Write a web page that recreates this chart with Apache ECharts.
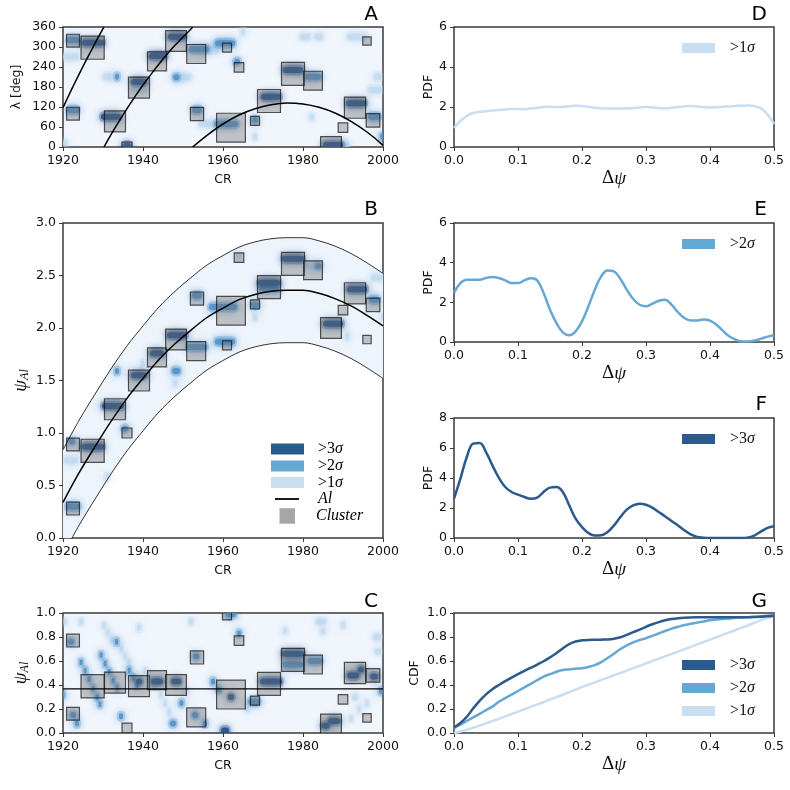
<!DOCTYPE html>
<html>
<head>
<meta charset="utf-8">
<script src="https://cdn.jsdelivr.net/npm/echarts@6/dist/echarts.min.js"></script>
<style>
	html, body { margin: 0; padding: 0; background: #fff; }
	#chart { width: 790px; height: 790px; }
</style>
</head>
<body>
<div id="chart"></div>
<script>
// ---- cluster boxes (same clusters in panels A, B, C) ----
const clusterCR = [1922.5, 1922.5, 1927.4, 1933, 1936, 1939, 1943.5, 1948.25, 1953.3, 1953.5, 1962, 1961, 1964, 1968, 1971.5, 1977.5, 1982.5, 1987, 1990, 1993, 1996, 1997.5];
const clusterWidth = [3.2, 3.2, 5.8, 5.25, 2.5, 5.25, 4.75, 5.2, 4.75, 3.3, 7.2, 2.25, 2.4, 2.25, 5.75, 5.75, 4.7, 5.2, 2.4, 5.3, 2.1, 3.4];
const clusterLambda = [319, 100, 298, 77, 0, 178, 257, 318, 279, 99, 58, 298, 239, 78.5, 138, 219.5, 199, 0, 58, 118, 318, 80];
const clusterPsi = [0.89, 0.28, 0.83, 1.226, 1.0, 1.5, 1.72, 1.89, 1.78, 2.28, 2.165, 1.835, 2.67, 2.225, 2.39, 2.61, 2.55, 2.0, 2.17, 2.33, 1.89, 2.22];
const clusterDev = [0.77, 0.16, 0.39, 0.42, 0.04, 0.39, 0.44, 0.40, 0.13, 0.63, 0.32, 0.98, 0.77, 0.27, 0.41, 0.61, 0.57, 0.07, 0.28, 0.50, 0.126, 0.48];

// ---- detections [CR, value, length in CR] by significance ----
const blobsA3 = [[1927.5, 313, 5.5], [1932, 91, 5], [1936, 4, 2], [1939, 196, 4], [1943.7, 273, 4.5], [1948.5, 331, 4.5], [1972, 151, 5], [1977.5, 231, 5], [1987.5, 6, 5], [1993.3, 131, 5]];
const blobsA2 = [[1922.5, 321, 3], [1922.5, 111, 3], [1933.5, 211, 1], [1948.3, 209, 1.5], [1954, 293, 5], [1953.5, 111, 2.5], [1960.8, 69, 6], [1960.5, 311, 5], [1963.5, 256, 1.5], [1968, 81, 1.5], [1982.5, 211, 4], [1997.8, 91, 3], [1999.8, 31, 1]];
const blobsA1 = [[1922, 271, 4], [1920.5, 11, 1], [1931, 211, 2], [1939, 171, 4], [1950.5, 209, 3], [1955.5, 69, 3], [1965, 346, 1], [1968, 31, 1], [1980.5, 331, 2.5], [1984, 331, 2], [1993.5, 331, 5], [1998, 171, 3.5], [1998.7, 211, 2], [1990.5, 6, 2], [1982.2, 91, 1], [1957, 293, 4]];

const blobsB3 = [[1977.5, 2.66, 5.5], [1971.5, 2.43, 5.5], [1993.5, 2.37, 5], [1987.5, 2.04, 5], [1948.5, 1.93, 5], [1943.5, 1.76, 3.5], [1939, 1.55, 4], [1932.5, 1.257, 5.5], [1927.5, 0.87, 5.5]];
const blobsB2 = [[1983.8, 2.59, 1.5], [1971.5, 2.38, 5], [1997.8, 2.27, 2.5], [1953.5, 2.31, 2.5], [1960, 2.2, 7], [1968, 2.22, 2], [1960.5, 1.87, 5], [1953.5, 1.82, 5], [1948.3, 1.59, 2], [1933.5, 1.59, 1], [1935.5, 1.04, 1.5], [1922.2, 0.92, 1.5], [1922.5, 0.3, 3.5]];
const blobsB1 = [[1982, 2.59, 3.5], [1998.5, 2.48, 3], [1968, 2.1, 1], [1991, 1.92, 1], [2000, 2.11, 1], [1940, 1.66, 1], [1922, 0.74, 3.5], [1931, 0.58, 1], [1964, 2.69, 1.5], [1948, 1.47, 1]];

const blobsC3 = [[1939, 0.43, 1.5], [1943.5, 0.43, 3], [1948.3, 0.43, 2.5], [1962, 0.30, 1.5], [1960.5, 0.02, 2], [1972, 0.43, 5.5], [1977.5, 0.66, 5.5], [1985.6, 0.06, 2], [1987.8, 0.10, 3], [1992.5, 0.48, 3], [1994.5, 0.53, 1.5], [1997.8, 0.47, 2]];
const blobsC2 = [[1924.5, 0.59, 0.7], [1925.5, 0.52, 0.7], [1926.5, 0.45, 0.7], [1927.5, 0.37, 0.7], [1928.5, 0.30, 0.7], [1929.2, 0.24, 0.7],
	[1929.5, 0.65, 0.7], [1930.5, 0.58, 0.7], [1931.5, 0.51, 0.7], [1932.5, 0.44, 0.7], [1933.5, 0.38, 0.7],
	[1936.5, 0.52, 0.7], [1937.5, 0.46, 0.7], [1938.5, 0.40, 0.7],
	[1920, 0.32, 0.8], [1922, 0.76, 1.5], [1922.5, 0.15, 1.5], [1923.5, 0.08, 1], [1933.4, 0.76, 0.8], [1934.5, 0.14, 1], [1947.5, 0.08, 1.5], [1949.6, 0.25, 1],
	[1953.3, 0.64, 1.5], [1953, 0.15, 1.5], [1955.5, 0.08, 1], [1957.5, 0.43, 1], [1959, 0.36, 1.2], [1962, 0.99, 2.5], [1964, 0.83, 1], [1967.8, 0.26, 3],
	[1977.5, 0.57, 5], [1983, 0.60, 3.5], [1999.5, 0.35, 1]];
const blobsC1 = [[1930.2, 0.9, 0.7], [1931.2, 0.84, 0.7], [1932.2, 0.78, 0.7], [1934.5, 0.7, 0.7], [1935.5, 0.64, 0.7], [1936.5, 0.59, 0.7],
	[1940.5, 0.52, 0.7], [1941.5, 0.46, 0.7], [1942.5, 0.40, 0.7], [1944.5, 0.32, 0.7], [1945.5, 0.25, 0.7], [1946.5, 0.18, 0.7],
	[1920.5, 0.93, 0.8], [1924.5, 0.93, 1], [1939, 0.88, 1], [1952, 0.93, 1], [1984.5, 0.93, 2.5], [1998.5, 0.8, 2], [1993, 0.30, 1.5],
	[1992, 0.12, 0.8], [1994, 0.2, 0.8], [1996, 0.25, 0.8], [1975.5, 0.85, 1], [1985, 0.85, 1], [1990, 0.9, 1], [1998.7, 0.68, 1.5], [1951, 0.35, 1], [1966, 0.2, 0.8]];

// ---- Al curve, panel A (wrapped in longitude) ----
const lambdaSeg1 = [[1920, 118], [1922, 169], [1924, 218], [1926, 265], [1928, 311], [1930, 355], [1930.25, 360]];
const lambdaSeg2 = [[1930.25, 0], [1932, 37], [1934, 77], [1936, 115], [1938, 151], [1940, 186], [1942, 218], [1944, 249], [1946, 278], [1948, 305], [1950, 330], [1952, 354], [1952.4, 360]];
const lambdaSeg3 = [[1952.4, 0], [1956, 35], [1960, 69], [1964, 96], [1968, 115], [1972, 127], [1976, 132], [1980, 129], [1984, 119], [1988, 102], [1992, 77], [1996, 45], [2000, 5]];

// ---- Al curve and band, panel B ----
const bandCR = [1920, 1924, 1928, 1932, 1936, 1940, 1944, 1948, 1952, 1956, 1960, 1964, 1968, 1972, 1976, 1980, 1984, 1988, 1992, 1996, 2000];
const alPsi = [0.34, 0.62, 0.87, 1.11, 1.33, 1.52, 1.70, 1.85, 1.98, 2.10, 2.19, 2.27, 2.32, 2.35, 2.36, 2.36, 2.33, 2.28, 2.21, 2.12, 2.02];
const bandUpper = [0.84, 1.12, 1.37, 1.61, 1.83, 2.02, 2.20, 2.35, 2.48, 2.60, 2.69, 2.77, 2.82, 2.85, 2.86, 2.86, 2.83, 2.78, 2.71, 2.62, 2.52];
const bandLower = [-0.16, 0.12, 0.37, 0.61, 0.83, 1.02, 1.20, 1.35, 1.48, 1.60, 1.69, 1.77, 1.82, 1.85, 1.86, 1.86, 1.83, 1.78, 1.71, 1.62, 1.52];
const devLine = 0.367;

// ---- distributions of delta psi ----
const dpsi = [0, 0.01, 0.02, 0.03, 0.04, 0.05, 0.06, 0.07, 0.08, 0.09, 0.1, 0.11, 0.12, 0.13, 0.14, 0.15, 0.16, 0.17, 0.18, 0.19, 0.2,
	0.21, 0.22, 0.23, 0.24, 0.25, 0.26, 0.27, 0.28, 0.29, 0.3, 0.31, 0.32, 0.33, 0.34, 0.35, 0.36, 0.37, 0.38, 0.39, 0.4,
	0.41, 0.42, 0.43, 0.44, 0.45, 0.46, 0.47, 0.48, 0.49, 0.5];
const pdf1 = [0.95, 1.30, 1.55, 1.70, 1.76, 1.79, 1.82, 1.85, 1.88, 1.90, 1.90, 1.89, 1.92, 1.96, 2.00, 2.01, 2.00, 2.01, 2.04, 2.06, 2.05,
	2.01, 1.96, 1.93, 1.92, 1.92, 1.92, 1.93, 1.95, 1.98, 2.00, 1.98, 1.95, 1.94, 1.96, 2.00, 2.04, 2.05, 2.03, 2.00, 1.98,
	1.99, 2.01, 2.03, 2.05, 2.06, 2.07, 2.04, 1.93, 1.62, 1.15];
const pdf2 = [2.47, 2.97, 3.14, 3.14, 3.14, 3.23, 3.28, 3.23, 3.11, 2.97, 2.97, 3.11, 3.21, 3.11, 2.47, 1.63, 0.96, 0.49, 0.34, 0.54, 1.04,
	1.8, 2.64, 3.31, 3.61, 3.56, 3.18, 2.64, 2.17, 1.88, 1.8, 1.93, 2.08, 2.13, 1.88, 1.5, 1.21, 1.09, 1.09, 1.13, 1.08,
	0.87, 0.57, 0.29, 0.12, 0.03, 0.03, 0.08, 0.17, 0.27, 0.34];
const pdf3 = [2.62, 3.96, 5.4, 6.29, 6.33, 5.73, 4.84, 4.02, 3.4, 3.07, 2.89, 2.73, 2.62, 2.69, 3.07, 3.36, 3.4, 3.07, 2.18, 1.29, 0.73,
	0.33, 0.16, 0.18, 0.4, 0.84, 1.4, 1.89, 2.18, 2.29, 2.22, 2.02, 1.73, 1.44, 1.13, 0.84, 0.51, 0.24, 0.07, 0.02, 0,
	0, 0, 0, 0, 0, 0.04, 0.18, 0.44, 0.67, 0.78];
const cdf3 = [0.047, 0.083, 0.135, 0.205, 0.268, 0.322, 0.365, 0.400, 0.432, 0.462, 0.490, 0.518, 0.544, 0.570, 0.598, 0.630, 0.665, 0.705, 0.740, 0.762, 0.772,
	0.776, 0.777, 0.778, 0.780, 0.786, 0.798, 0.818, 0.840, 0.862, 0.885, 0.906, 0.924, 0.939, 0.950, 0.957, 0.961, 0.963, 0.964, 0.965, 0.965,
	0.965, 0.965, 0.965, 0.965, 0.965, 0.965, 0.966, 0.968, 0.972, 0.978];
const cdf2 = [0.04, 0.07, 0.10, 0.13, 0.16, 0.19, 0.22, 0.26, 0.29, 0.32, 0.35, 0.38, 0.41, 0.44, 0.47, 0.49, 0.51, 0.525, 0.53, 0.535, 0.54,
	0.55, 0.565, 0.59, 0.625, 0.66, 0.70, 0.73, 0.755, 0.775, 0.79, 0.81, 0.83, 0.85, 0.87, 0.885, 0.90, 0.91, 0.92, 0.93, 0.94,
	0.945, 0.95, 0.955, 0.96, 0.962, 0.965, 0.968, 0.972, 0.978, 0.985];
const cdf1 = [0.000, 0.012, 0.027, 0.044, 0.062, 0.080, 0.099, 0.118, 0.138, 0.158, 0.178, 0.198, 0.218, 0.238, 0.258, 0.279, 0.299, 0.319, 0.340, 0.361, 0.382,
	0.402, 0.422, 0.442, 0.461, 0.481, 0.500, 0.520, 0.540, 0.560, 0.580, 0.600, 0.619, 0.639, 0.658, 0.678, 0.698, 0.718, 0.738, 0.758, 0.778,
	0.798, 0.818, 0.838, 0.858, 0.878, 0.898, 0.919, 0.940, 0.962, 0.980];

const panelLabels = ['A', 'B', 'C', 'D', 'E', 'F', 'G'];
const sigmaNames = ['>3σ', '>2σ', '>1σ'];

// ---- styling ----
const C3 = '#2b5a8c', C2 = '#65a8d4', C1 = '#c9def0';
const BLOB3 = '#1f4f8b', BLOB2 = '#4f90c8', BLOB1 = '#c3daef';
const SANS = 'DejaVu Sans', SERIF = 'Liberation Serif';
const INK = '#3a3a3a';

let chart = echarts.init(document.getElementById('chart'), null, { renderer: 'canvas' });

const grids = [
	{ left: 63, top: 27, width: 320, height: 120, backgroundColor: '#f1f6fd' },
	{ left: 63, top: 223, width: 320, height: 315, backgroundColor: '#ffffff' },
	{ left: 63, top: 613, width: 320, height: 120, backgroundColor: '#f1f6fd' },
	{ left: 454, top: 27, width: 320, height: 120 },
	{ left: 454, top: 223, width: 320, height: 119 },
	{ left: 454, top: 418, width: 320, height: 120 },
	{ left: 454, top: 613, width: 320, height: 120 }
].map(g => Object.assign({ show: true, borderColor: INK, borderWidth: 1.5, backgroundColor: '#fff' }, g));

function axis(gridIndex, min, max, step, digits, name, nameGap, nameTextStyle)
{
	return {
		type: 'value', gridIndex: gridIndex, min: min, max: max, interval: step,
		name: name, nameLocation: 'middle', nameGap: nameGap, nameTextStyle: nameTextStyle,
		axisLine: { show: false },
		axisTick: { show: true, inside: false, length: 4, lineStyle: { color: INK, width: 1 } },
		axisLabel: { fontFamily: SANS, fontSize: 12.5, color: '#111', margin: 7, formatter: (v) => v.toFixed(digits) },
		splitLine: { show: false }
	};
}

const crName = { fontFamily: SANS, fontSize: 12.5, color: '#111' };
const psiName = {
	rich: {
		p: { fontFamily: SERIF, fontStyle: 'italic', fontSize: 19, color: '#111' },
		s: { fontFamily: SERIF, fontStyle: 'italic', fontSize: 12, color: '#111', verticalAlign: 'bottom', padding: [8, 0, 0, 0] }
	}
};
const dpsiName = {
	rich: {
		d: { fontFamily: SERIF, fontSize: 19, color: '#111' },
		p: { fontFamily: SERIF, fontStyle: 'italic', fontSize: 19, color: '#111' }
	}
};

const xAxes = [
	axis(0, 1920, 2000, 20, 0, 'CR', 26, crName),
	axis(1, 1920, 2000, 20, 0, 'CR', 26, crName),
	axis(2, 1920, 2000, 20, 0, 'CR', 26, crName),
	axis(3, 0, 0.5, 0.1, 1, '{d|Δ}{p|ψ}', 22, dpsiName),
	axis(4, 0, 0.5, 0.1, 1, '{d|Δ}{p|ψ}', 22, dpsiName),
	axis(5, 0, 0.5, 0.1, 1, '{d|Δ}{p|ψ}', 22, dpsiName),
	axis(6, 0, 0.5, 0.1, 1, '{d|Δ}{p|ψ}', 22, dpsiName)
];
const yAxes = [
	axis(0, 0, 360, 60, 0, 'λ [deg]', 40, crName),
	axis(1, 0, 3, 0.5, 1, '{p|ψ}{s|Al}', 32, psiName),
	axis(2, 0, 1, 0.2, 1, '{p|ψ}{s|Al}', 32, psiName),
	axis(3, 0, 6, 2, 0, 'PDF', 17, crName),
	axis(4, 0, 6, 2, 0, 'PDF', 17, crName),
	axis(5, 0, 8, 2, 0, 'PDF', 17, crName),
	axis(6, 0, 1, 0.2, 1, 'CDF', 33, crName)
];

// blurred detection strips: soft halo plus a darker core
function blobSeries(name, idx, data, color)
{
	return {
		type: 'custom', name: name, xAxisIndex: idx, yAxisIndex: idx, clip: true,
		itemStyle: { color: color },
		data: data,
		renderItem: (params, api) =>
		{
			const a = api.coord([api.value(0) - api.value(2) / 2, api.value(1)]);
			const b = api.coord([api.value(0) + api.value(2) / 2, api.value(1)]);
			const w = Math.max(b[0] - a[0], 3);
			const yc = a[1];
			return {
				type: 'group',
				children: [
					{
						type: 'rect',
						shape: { x: a[0] - 2, y: yc - 5.5, width: w + 4, height: 11, r: 5 },
						style: { fill: color, opacity: 0.28, shadowBlur: 8, shadowColor: color }
					},
					{
						type: 'rect',
						shape: { x: a[0], y: yc - 3, width: w, height: 6, r: 3 },
						style: { fill: color, opacity: 0.85, shadowBlur: 6, shadowColor: color }
					}
				]
			};
		}
	};
}

// grey cluster squares
function clusterSeries(idx, values)
{
	return {
		type: 'custom', name: 'Cluster', xAxisIndex: idx, yAxisIndex: idx, clip: true,
		data: clusterCR.map((cr, i) => [cr, values[i], clusterWidth[i]]),
		renderItem: (params, api) =>
		{
			const c = api.coord([api.value(0), api.value(1)]);
			const s = api.size([api.value(2), 0])[0];
			return {
				type: 'rect',
				shape: { x: c[0] - s / 2, y: c[1] - s / 2, width: s, height: s },
				style: { fill: 'rgba(110,110,110,0.38)', stroke: 'rgba(15,15,15,0.7)', lineWidth: 1.2 }
			};
		}
	};
}

// filled band between the two limits in B
const bandSeries = {
	type: 'custom', name: 'band', xAxisIndex: 1, yAxisIndex: 1, clip: true, silent: true,
	data: [[bandCR[0], bandLower[0]]],
	renderItem: (params, api) =>
	{
		const top = bandCR.map((x, i) => api.coord([x, bandUpper[i]]));
		const bottom = bandCR.map((x, i) => api.coord([x, bandLower[i]])).reverse();
		return {
			type: 'polygon',
			shape: { points: top.concat(bottom) },
			style: { fill: '#edf4fc', stroke: null }
		};
	}
};

function lineSeries(name, idx, data, color, width, smooth)
{
	return {
		type: 'line', name: name, xAxisIndex: idx, yAxisIndex: idx, data: data,
		symbol: 'none', smooth: smooth, clip: true,
		lineStyle: { color: color, width: width }, itemStyle: { color: color }
	};
}

const pairs = (xs, ys) => xs.map((x, i) => [x, ys[i]]);

const series = [
	bandSeries,

	blobSeries(sigmaNames[2], 0, blobsA1, BLOB1),
	blobSeries(sigmaNames[1], 0, blobsA2, BLOB2),
	blobSeries(sigmaNames[0], 0, blobsA3, BLOB3),
	blobSeries(sigmaNames[2], 1, blobsB1, BLOB1),
	blobSeries(sigmaNames[1], 1, blobsB2, BLOB2),
	blobSeries(sigmaNames[0], 1, blobsB3, BLOB3),
	blobSeries(sigmaNames[2], 2, blobsC1, BLOB1),
	blobSeries(sigmaNames[1], 2, blobsC2, BLOB2),
	blobSeries(sigmaNames[0], 2, blobsC3, BLOB3),

	clusterSeries(0, clusterLambda),
	clusterSeries(1, clusterPsi),
	clusterSeries(2, clusterDev),

	lineSeries('band', 1, pairs(bandCR, bandLower), '#000', 0.8, 0.35),
	lineSeries('band', 1, pairs(bandCR, bandUpper), '#000', 0.8, 0.35),

	lineSeries('Al', 0, lambdaSeg1, '#000', 1.5, 0.3),
	lineSeries('Al', 0, lambdaSeg2, '#000', 1.5, 0.3),
	lineSeries('Al', 0, lambdaSeg3, '#000', 1.5, 0.3),
	lineSeries('Al', 1, pairs(bandCR, alPsi), '#000', 1.5, 0.35),
	lineSeries('Al', 2, [[1920, devLine], [2000, devLine]], '#000', 1.2, false),

	lineSeries(sigmaNames[2], 3, pairs(dpsi, pdf1), C1, 2.5, 0.4),
	lineSeries(sigmaNames[1], 4, pairs(dpsi, pdf2), C2, 2.5, 0.4),
	lineSeries(sigmaNames[0], 5, pairs(dpsi, pdf3), C3, 2.5, 0.4),
	lineSeries(sigmaNames[2], 6, pairs(dpsi, cdf1), C1, 2.5, 0.4),
	lineSeries(sigmaNames[1], 6, pairs(dpsi, cdf2), C2, 2.5, 0.4),
	lineSeries(sigmaNames[0], 6, pairs(dpsi, cdf3), C3, 2.5, 0.4)
];

const sigmaRich = {
	g: { width: 10 },
	n: { fontFamily: SERIF, fontSize: 16, color: '#111' },
	s: { fontFamily: SERIF, fontStyle: 'italic', fontSize: 16, color: '#111' }
};
const sigmaLabel = (name) => '{g| }{n|' + name.slice(0, -1) + '}{s|σ}';
const sigmaColor = { '>3σ': C3, '>2σ': C2, '>1σ': C1 };

function legend(names, top)
{
	return {
		data: names.map(n => ({ name: n, itemStyle: { color: sigmaColor[n] } })),
		left: 682, top: top, orient: 'vertical', icon: 'rect', itemWidth: 33, itemHeight: 10, itemGap: 7,
		selectedMode: false, padding: 0, formatter: sigmaLabel,
		textStyle: { rich: sigmaRich, lineHeight: 16 }
	};
}

const titles = panelLabels.map((t, i) => ({
	text: t,
	right: i < 3 ? 412 : 23,
	top: [5, 200, 592, 5, 200, 395, 592][i],
	padding: 0,
	textStyle: { fontFamily: SANS, fontSize: 20, fontWeight: 'normal', color: '#000' }
}));

// legend of panel B
const legendRows = [449, 466, 482.5, 499, 516];
const graphicB = [];
[C3, C2, C1].forEach((c, i) =>
{
	graphicB.push({ type: 'rect', shape: { x: 271, y: legendRows[i] - 5.5, width: 33, height: 11 }, style: { fill: c } });
	graphicB.push({ type: 'text', x: 318, y: legendRows[i], style: { text: '{n|' + sigmaNames[i].slice(0, -1) + '}{s|σ}', rich: sigmaRich, verticalAlign: 'middle' } });
});
graphicB.push({ type: 'line', shape: { x1: 275, y1: legendRows[3], x2: 299, y2: legendRows[3] }, style: { stroke: '#000', lineWidth: 1.8 } });
graphicB.push({ type: 'text', x: 318, y: legendRows[3], style: { text: '{s|Al}', rich: sigmaRich, verticalAlign: 'middle' } });
graphicB.push({ type: 'rect', shape: { x: 279.5, y: legendRows[4] - 7.8, width: 15.5, height: 15.5 }, style: { fill: '#a6a6a6' } });
graphicB.push({ type: 'text', x: 316, y: legendRows[4], style: { text: '{s|Cluster}', rich: sigmaRich, verticalAlign: 'middle' } });

const option = {
	animation: false,
	backgroundColor: '#fff',
	title: titles,
	grid: grids,
	xAxis: xAxes,
	yAxis: yAxes,
	legend: [
		legend(['>1σ'], 40),
		legend(['>2σ'], 236),
		legend(['>3σ'], 431),
		legend(['>3σ', '>2σ', '>1σ'], 657)
	],
	graphic: graphicB,
	series: series
};

chart.setOption(option);
</script>
</body>
</html>
